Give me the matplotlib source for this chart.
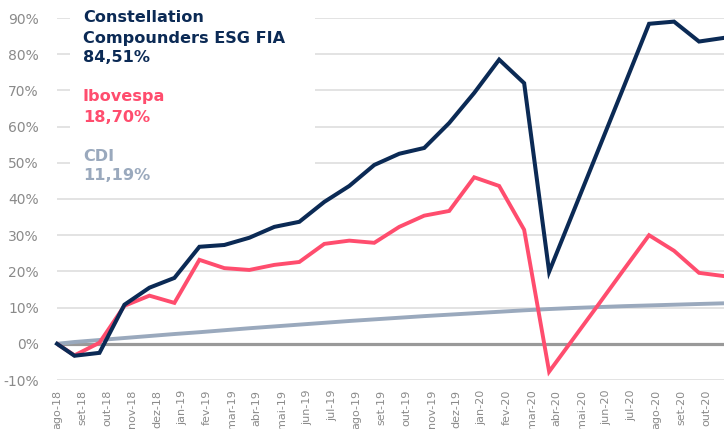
import numpy as np
import matplotlib
matplotlib.use("Agg")
import matplotlib.pyplot as plt
from matplotlib.patches import Rectangle

meses = ["ago-18", "set-18", "out-18", "nov-18", "dez-18", "jan-19", "fev-19",
         "mar-19", "abr-19", "mai-19", "jun-19", "jul-19", "ago-19", "set-19",
         "out-19", "nov-19", "dez-19", "jan-20", "fev-20", "mar-20", "abr-20",
         "mai-20", "jun-20", "jul-20", "ago-20", "set-20", "out-20"]

# retorno acumulado (%): ponto inicial + fechamentos mensais
fundo = [0, -3.3, -2.5, 10.8, 15.5, 18.2, 26.8, 27.3, 29.3, 32.3, 33.7, 39.2,
         43.6, 49.4, 52.5, 54.1, 61.0, 69.3, 78.5, 72.0, 19.9, 37.0, 54.1,
         71.2, 88.4, 89.0, 83.5, 84.51]
ibov = [0, -3.2, 0.3, 10.5, 13.3, 11.3, 23.2, 20.9, 20.4, 21.8, 22.6, 27.6,
        28.5, 27.9, 32.3, 35.4, 36.7, 46.0, 43.6, 31.5, -7.7, 1.7, 11.1,
        20.6, 30.0, 25.7, 19.6, 18.70]
cdi = [0, 0.5, 1.05, 1.6, 2.15, 2.7, 3.2, 3.75, 4.3, 4.8, 5.3, 5.8, 6.3,
       6.75, 7.2, 7.65, 8.05, 8.45, 8.85, 9.25, 9.6, 9.9, 10.15, 10.4, 10.6,
       10.8, 11.0, 11.19]

y_ticks = [-10, 0, 10, 20, 30, 40, 50, 60, 70, 80, 90]

navy = "#0b2a55"
rosa = "#ff4d6e"
cinza_cdi = "#9aa9bd"
cinza_txt = "#8a8a8a"

plt.rcParams["font.family"] = "DejaVu Sans"
plt.rcParams["axes.unicode_minus"] = False

fig = plt.figure(figsize=(7.24, 4.29), dpi=100)
ax = fig.add_axes([57 / 724, 49 / 429, 667 / 724, 362 / 429])

x = np.concatenate([[0], np.arange(1, len(fundo)) - 0.3])

for v in y_ticks:
    ax.axhline(v, color="#dedede", lw=1.2, zorder=0)
ax.axhline(0, color="#999999", lw=2.3, zorder=1)

ax.plot(x, cdi, color=cinza_cdi, lw=2.8, zorder=3, solid_capstyle="butt")
ax.plot(x, ibov, color=rosa, lw=2.8, zorder=4, solid_joinstyle="miter")
ax.plot(x, fundo, color=navy, lw=2.9, zorder=5, solid_joinstyle="miter",
        clip_on=False)

ax.set_xlim(0, x[-1])
ax.set_ylim(-10, 90)
for s in ax.spines.values():
    s.set_visible(False)

ax.set_xticks(range(len(meses)))
ax.set_xticklabels(meses, rotation=90, fontsize=8, color=cinza_txt)
ax.set_yticks(y_ticks)
ax.set_yticklabels([f"{v}%" for v in y_ticks], fontsize=10, color=cinza_txt)
ax.tick_params(axis="x", length=0, pad=7)
ax.tick_params(axis="y", length=0, pad=13)

# caixa branca da legenda
ax.add_patch(Rectangle(((70 - 57) / 667, (380 - 192) / 362),
                       (315 - 70) / 667, 1.1, transform=ax.transAxes,
                       facecolor="white", edgecolor="none", zorder=2,
                       clip_on=False))

legenda = [
    ("Constellation", 17, navy),
    ("Compounders ESG FIA", 38, navy),
    ("84,51%", 57, navy),
    ("Ibovespa", 97, rosa),
    ("18,70%", 117, rosa),
    ("CDI", 157, cinza_cdi),
    ("11,19%", 176, cinza_cdi),
]
for txt, ypx, cor in legenda:
    fig.text(83 / 724, 1 - ypx / 429, txt, color=cor, fontsize=11.6,
             fontweight="bold", va="center", ha="left")

fig.savefig("out.png", dpi=100)
